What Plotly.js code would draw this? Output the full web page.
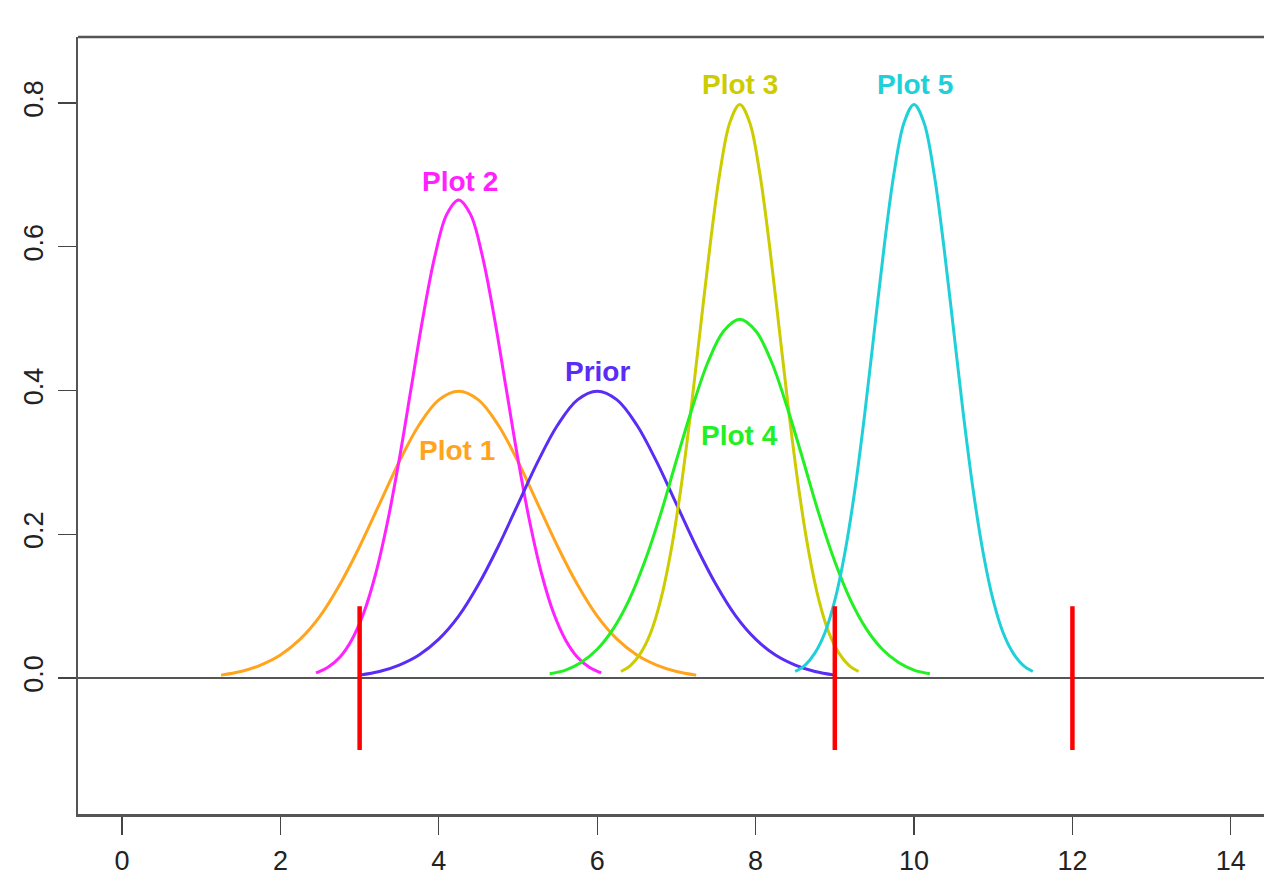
<!DOCTYPE html>
<html>
<head>
<meta charset="utf-8">
<script src="https://cdn.plot.ly/plotly-3.0.1.min.js"></script>
<style>html,body{margin:0;padding:0;background:#fff;}#chart{width:1264px;height:880px;}</style>
</head>
<body>
<div id="chart"></div>
<script>
// Curves (x, density)
const priorX = [3,3.25,3.5,3.75,4,4.25,4.5,4.75,5,5.25,5.5,5.75,6,6.25,6.5,6.75,7,7.25,7.5,7.75,8,8.25,8.5,8.75,9];
const priorY = [0.004,0.009,0.018,0.032,0.054,0.086,0.130,0.183,0.242,0.301,0.352,0.387,0.399,0.387,0.352,0.301,0.242,0.183,0.130,0.086,0.054,0.032,0.018,0.009,0.004];

const plot1X = [1.25,1.5,1.75,2,2.25,2.5,2.75,3,3.25,3.5,3.75,4,4.25,4.5,4.75,5,5.25,5.5,5.75,6,6.25,6.5,6.75,7,7.25];
const plot1Y = [0.004,0.009,0.018,0.032,0.054,0.086,0.130,0.183,0.242,0.301,0.352,0.387,0.399,0.387,0.352,0.301,0.242,0.183,0.130,0.086,0.054,0.032,0.018,0.009,0.004];

const plot2X = [2.45,2.6,2.75,2.9,3.05,3.2,3.35,3.5,3.65,3.8,3.95,4.1,4.25,4.4,4.55,4.7,4.85,5.0,5.15,5.3,5.45,5.6,5.75,5.9,6.05];
const plot2Y = [0.007,0.015,0.029,0.053,0.090,0.144,0.216,0.304,0.403,0.502,0.587,0.645,0.665,0.645,0.587,0.502,0.403,0.304,0.216,0.144,0.090,0.053,0.029,0.015,0.007];

const plot3X = [6.3,6.425,6.55,6.675,6.8,6.925,7.05,7.175,7.3,7.425,7.55,7.675,7.8,7.925,8.05,8.175,8.3,8.425,8.55,8.675,8.8,8.925,9.05,9.175,9.3];
const plot3Y = [0.009,0.018,0.035,0.063,0.108,0.173,0.259,0.365,0.484,0.602,0.704,0.773,0.798,0.773,0.704,0.602,0.484,0.365,0.259,0.173,0.108,0.063,0.035,0.018,0.009];

const plot4X = [5.4,5.6,5.8,6.0,6.2,6.4,6.6,6.8,7.0,7.2,7.4,7.6,7.8,8.0,8.2,8.4,8.6,8.8,9.0,9.2,9.4,9.6,9.8,10.0,10.2];
const plot4Y = [0.006,0.011,0.022,0.040,0.068,0.108,0.162,0.228,0.303,0.376,0.440,0.483,0.499,0.483,0.440,0.376,0.303,0.228,0.162,0.108,0.068,0.040,0.022,0.011,0.006];

const plot5X = [8.5,8.625,8.75,8.875,9,9.125,9.25,9.375,9.5,9.625,9.75,9.875,10,10.125,10.25,10.375,10.5,10.625,10.75,10.875,11,11.125,11.25,11.375,11.5];
const plot5Y = [0.009,0.018,0.035,0.063,0.108,0.173,0.259,0.365,0.484,0.602,0.704,0.773,0.798,0.773,0.704,0.602,0.484,0.365,0.259,0.173,0.108,0.063,0.035,0.018,0.009];

// Red markers
const markerX = [3, 9, 12];
const markerLow = -0.1;
const markerHigh = 0.1;

// Curve labels
const labelText = ["Prior", "Plot 1", "Plot 2", "Plot 3", "Plot 4", "Plot 5"];
const labelX = [6.0, 4.23, 4.27, 7.8, 7.8, 10.01];
const labelY = [0.427, 0.316, 0.691, 0.826, 0.338, 0.826];
const colors = ["#5a2cf5", "#ffa41c", "#ff22ff", "#cccc00", "#22f022", "#20d0d8"];

const xTicks = [0, 2, 4, 6, 8, 10, 12, 14];
const yTicks = [0, 0.2, 0.4, 0.6, 0.8];

const curves = [[priorX, priorY], [plot1X, plot1Y], [plot2X, plot2Y], [plot3X, plot3Y], [plot4X, plot4Y], [plot5X, plot5Y]];
const traces = [];
const rx = [], ry = [];
markerX.forEach(v => { rx.push(v, v, null); ry.push(markerLow, markerHigh, null); });
const order = [1, 2, 0, 3, 4, 5];
order.forEach(i => {
  traces.push({x: curves[i][0], y: curves[i][1], mode: 'lines', type: 'scatter',
    line: {color: colors[i], width: 3, shape: 'spline', smoothing: 1}, hoverinfo: 'skip', showlegend: false});
});
traces.push({x: rx, y: ry, mode: 'lines', type: 'scatter', line: {color: '#ff0000', width: 4.5}, showlegend: false, hoverinfo: 'skip'});

const annotations = labelText.map((t, i) => ({
  x: labelX[i], y: labelY[i], text: '<b>' + t + '</b>', showarrow: false,
  font: {family: 'Liberation Sans, Arial, sans-serif', size: 28, color: colors[i]},
  xanchor: 'center', yanchor: 'middle'
}));

const layout = {
  width: 1264, height: 880,
  margin: {l: 78, r: 0, t: 37, b: 66},
  paper_bgcolor: '#fff', plot_bgcolor: '#fff',
  showlegend: false,
  font: {family: 'Liberation Sans, Arial, sans-serif', color: '#222'},
  xaxis: {
    range: [-0.556, 14.419], tickmode: 'array', tickvals: xTicks, ticktext: xTicks.map(String),
    ticks: 'outside', ticklen: 18, tickwidth: 1.2, tickcolor: '#444',
    showgrid: false, zeroline: false, showline: true, linecolor: '#555', linewidth: 2.5,
    tickfont: {size: 27, color: '#222'}, ticklabelstandoff: 3
  },
  yaxis: {
    range: [-0.1892, 0.8918], tickmode: 'array', tickvals: yTicks, ticktext: yTicks.map(v => v.toFixed(1)),
    ticks: 'outside', ticklen: 18, tickwidth: 1.2, tickcolor: '#444', tickangle: -90,
    showgrid: false, zeroline: false, showline: true, linecolor: '#555', linewidth: 2.5,
    tickfont: {size: 27, color: '#222'}, ticklabelstandoff: 4
  },
  shapes: [
    {type: 'line', xref: 'paper', yref: 'paper', x0: 0, x1: 1, y0: 1, y1: 1, line: {color: '#555', width: 2.5}},
    {type: 'line', xref: 'paper', yref: 'y', x0: 0, x1: 1, y0: 0, y1: 0, line: {color: '#555', width: 1.8}, layer: 'below'}
  ],
  annotations: annotations
};

Plotly.newPlot('chart', traces, layout, {displayModeBar: false, staticPlot: true});
</script>
</body>
</html>
